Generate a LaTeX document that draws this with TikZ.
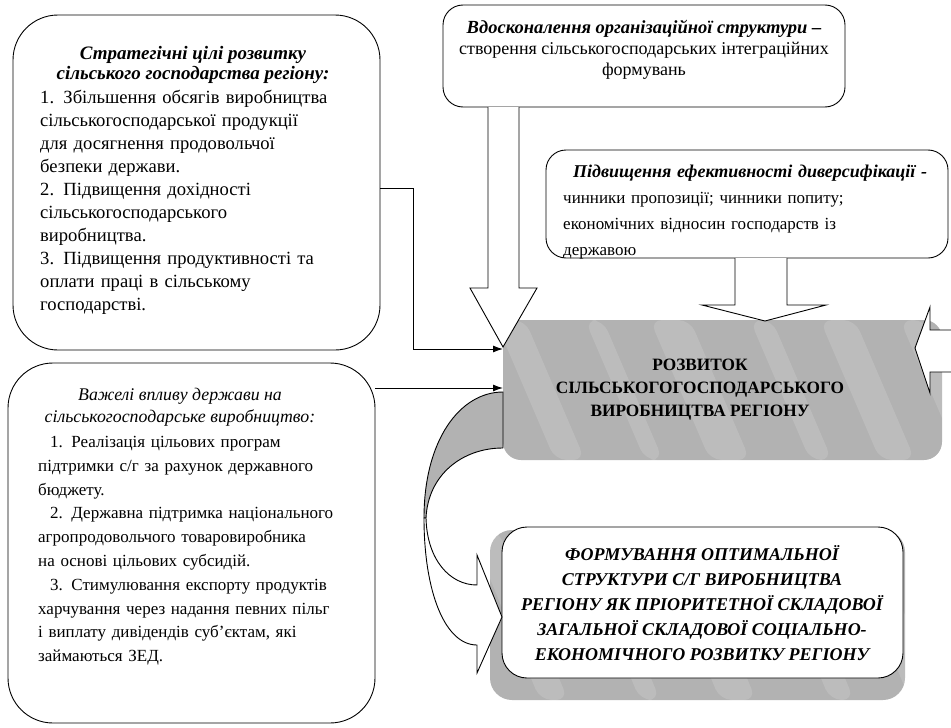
\documentclass[tikz,border=0pt]{standalone}
\usepackage{fontspec}
\setmainfont{Liberation Serif}
\usetikzlibrary{arrows.meta,calc}
\definecolor{shadecol}{gray}{0.70}
\tikzset{
  rbox/.style={draw, line width=0.9pt, fill=white, inner sep=0pt, outer sep=0pt},
  shadebox/.style={fill=shadecol, inner sep=0pt, outer sep=0pt},
  txt/.style={inner sep=0pt, font=\fontsize{17}{23}\selectfont},
  blockarrow/.style={draw, line width=0.9pt, fill=white, line join=miter},
  conn/.style={line width=1pt, -{Latex[length=10pt,width=7pt]}},
  streak/.style={fill=white, opacity=0.14},
}
\begin{document}
\begin{tikzpicture}[x=1pt,y=-1pt]
\useasboundingbox (0,0) rectangle (951,728);

% shaded central block and shadow behind bottom box
\node[shadebox, rounded corners=18pt, minimum width=439pt, minimum height=140pt] (dev) at (722.5,390) {};
\node[shadebox, rounded corners=22pt, minimum width=415pt, minimum height=170pt] (shadow) at (697.5,615) {};
\begin{scope}
\clip[rounded corners=18pt] (dev.south west) rectangle (dev.north east);
\foreach \sx/\sw in {495/30,585/18,650/40,750/22,820/35,900/25}
  \fill[streak, rounded corners=12pt] (\sx,320) -- (\sx+\sw,320) -- (\sx+\sw+60,460) -- (\sx+60,460) -- cycle;
\end{scope}
\begin{scope}
\clip[rounded corners=22pt] (shadow.south west) rectangle (shadow.north east);
\foreach \sx/\sw in {470/28,570/20,650/36,760/24,840/30}
  \fill[streak, rounded corners=12pt] (\sx,530) -- (\sx+\sw,530) -- (\sx+\sw+70,700) -- (\sx+70,700) -- cycle;
\end{scope}

% boxes
\node[rbox, rounded corners=45pt, minimum width=367pt, minimum height=335pt] (goals) at (196.5,182.5) {};
\node[rbox, rounded corners=45pt, minimum width=367pt, minimum height=360pt] (levers) at (191.5,543) {};
\node[rbox, rounded corners=20pt, minimum width=402pt, minimum height=102pt] (improve) at (644,56) {};
\node[rbox, rounded corners=20pt, minimum width=402pt, minimum height=108pt] (divers) at (747,204) {};
\node[rbox, rounded corners=25pt, minimum width=401pt, minimum height=151pt] (form) at (702.5,602.5) {};

% texts: strategic goals
\node[txt, anchor=north, align=center, font=\fontsize{19}{20}\selectfont\bfseries\itshape] (goalstitle) at (193,46) {%
Стратегічні цілі розвитку\\ сільського господарства регіону:};
\node[txt, anchor=north west, text width=320pt, align=left, font=\fontsize{18.6}{23}\selectfont] (goalstxt) at (40,90) {%
1. Збільшення обсягів виробництва\\
сільськогосподарської продукції\\
для досягнення продовольчої\\
безпеки держави.\\
2. Підвищення дохідності\\
сільськогосподарського\\
виробництва.\\
3. Підвищення продуктивності та\\
оплати праці в сільському\\
господарстві.};

% texts: levers of state influence
\node[txt, anchor=north, align=center, font=\fontsize{17.8}{21.5}\selectfont\itshape] (leverstitle) at (180,388) {%
Важелі впливу держави на\\ сільськогосподарське виробництво:};
\node[txt, anchor=north west, text width=330pt, align=left, font=\fontsize{17}{23.8}\selectfont] (leverstxt) at (38,436) {%
\hspace*{12pt}1. Реалізація цільових програм\\
підтримки с/г за рахунок державного\\
бюджету.\\
\hspace*{12pt}2. Державна підтримка національного\\
агропродовольчого товаровиробника\\
на основі цільових субсидій.\\
\hspace*{12pt}3. Стимулювання експорту продуктів\\
харчування через надання певних пільг\\
і виплату дивідендів суб’єктам, які\\
займаються ЗЕД.};

% texts: organisational structure
\node[txt, anchor=north, align=center, font=\fontsize{18}{21}\selectfont] (improvetxt) at (644,20) {%
{\fontsize{18.5}{21}\selectfont\textbf{\textit{Вдосконалення організаційної структури –}}}\\
створення сільськогосподарських інтеграційних\\
формувань};

% texts: diversification (last line cut by the frame)
\begin{scope}
\clip[rounded corners=20pt] (divers.south west) rectangle (divers.north east);
\node[txt, anchor=north west, text width=380pt, align=left, font=\fontsize{17}{26}\selectfont] (diverstxt) at (563,165) {%
\hspace*{10pt}{\fontsize{18}{26}\selectfont\textbf{\textit{Підвищення ефективності диверсифікації -}}}\\
чинники пропозиції; чинники попиту;\\
економічних відносин господарств із\\
державою};
\end{scope}

\node[txt, anchor=north, align=center, font=\fontsize{17.3}{23}\selectfont\bfseries] (devtxt) at (700,359) {%
РОЗВИТОК\\
СІЛЬСЬКОГОГОСПОДАРСЬКОГО\\
ВИРОБНИЦТВА РЕГІОНУ};

\node[txt, anchor=north, align=center, font=\fontsize{18}{25.2}\selectfont\bfseries\itshape] (formtxt) at (702,545) {%
ФОРМУВАННЯ ОПТИМАЛЬНОЇ\\
СТРУКТУРИ С/Г ВИРОБНИЦТВА\\
РЕГІОНУ ЯК ПРІОРИТЕТНОЇ СКЛАДОВОЇ\\
ЗАГАЛЬНОЇ СКЛАДОВОЇ СОЦІАЛЬНО-\\
ЕКОНОМІЧНОГО РОЗВИТКУ РЕГІОНУ};

% block arrow from top box
\draw[blockarrow] ($(improve.south west)+(45,0)$) -- (488,288) -- (470,288) -- ($(dev.west)+(0,-43)$)
  -- (537,288) -- (519,288) -- ($(improve.south west)+(76,0)$);
% block arrow from diversification box
\draw[blockarrow] (735,258) -- (735,305) -- (702,305) -- (765,321) -- (826,305) -- (787,305) -- (787,258);
% block arrow from the right
\draw[blockarrow] (956,330) -- (930,330) -- (930,307) -- (915,348) -- (930,393) -- (930,372) -- (956,372);

% connectors from left boxes
\draw[conn] ($(goals.east)+(0,5.5)$) -- ++(33,0) |- ($(dev.west)+(0,-41)$);
\draw[conn] (levers.east |- 0,388) -- ($(dev.west)+(0,-2)$);

% curved arrow from central block to bottom box
\draw[line width=0.9pt, fill=shadecol, line join=round]
  ($(dev.west)+(0,2)$) .. controls (460,392) and (424,440) .. (424,518)
  -- (426,518) .. controls (428,475) and (462,448) .. (503,448) -- cycle;
\draw[line width=0.9pt, fill=white, line join=miter]
  (424,518) .. controls (424,592) and (445,645) .. (477,645)
  -- (477,673) -- (form.west |- 0,617) -- (477,555) -- (477,585)
  .. controls (450,585) and (427,560) .. (426,518) -- cycle;
\end{tikzpicture}
\end{document}
